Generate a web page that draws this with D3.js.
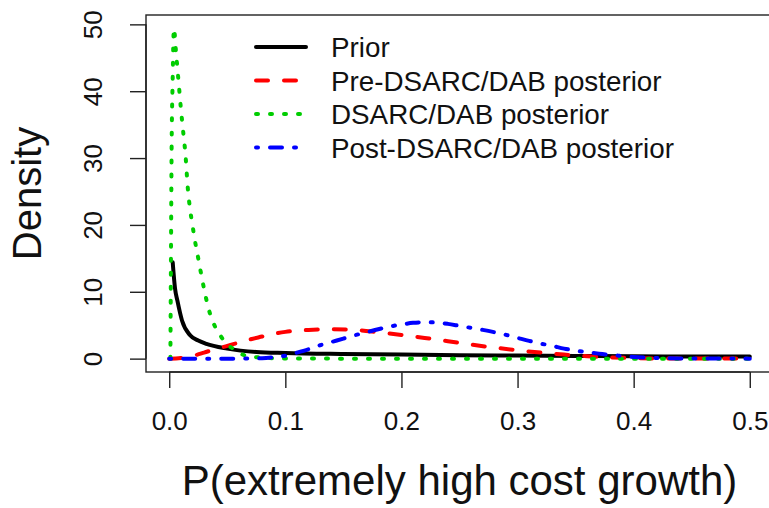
<!DOCTYPE html>
<html>
<head>
<meta charset="utf-8">
<script src="https://cdn.jsdelivr.net/npm/d3@7"></script>
<style>
  body { margin: 0; background: #fff; }
  svg { font-family: "Liberation Sans", Arial, sans-serif; }
</style>
</head>
<body>
<svg id="chart" width="769" height="508"></svg>
<script>
// series names for the legend
let seriesNames = ["Prior", "Pre-DSARC/DAB posterior", "DSARC/DAB posterior", "Post-DSARC/DAB posterior"];

// Prior (black)
let priorP = [0.003, 0.005, 0.007, 0.011, 0.018, 0.025, 0.032, 0.05, 0.075, 0.1, 0.15, 0.2, 0.25, 0.3, 0.35, 0.4, 0.45, 0.5];
let priorD = [14.4, 10.5, 8.7, 5.7, 3.5, 2.7, 2.2, 1.5, 1.0, 0.85, 0.7, 0.6, 0.5, 0.45, 0.4, 0.35, 0.32, 0.3];

// Pre-DSARC/DAB posterior (red)
let preP = [0.0, 0.01, 0.02, 0.03, 0.04, 0.05, 0.06, 0.07, 0.08, 0.09, 0.1, 0.12, 0.14, 0.16, 0.18, 0.2, 0.22, 0.24, 0.26, 0.28, 0.3, 0.32, 0.34, 0.36, 0.38, 0.4, 0.42, 0.45, 0.5];
let preD = [0, 0.1, 0.4, 0.9, 1.45, 1.9, 2.4, 2.9, 3.3, 3.7, 4.0, 4.3, 4.4, 4.3, 3.95, 3.55, 3.1, 2.6, 2.1, 1.65, 1.25, 0.9, 0.6, 0.35, 0.18, 0.08, 0.03, 0.01, 0];

// DSARC/DAB posterior (green)
let dsarcP = [0.001, 0.0015, 0.002, 0.003, 0.004, 0.006, 0.008, 0.01, 0.012, 0.014, 0.016, 0.018, 0.02, 0.022, 0.025, 0.028, 0.031, 0.035, 0.04, 0.045, 0.05, 0.055, 0.065, 0.08, 0.1, 0.15, 0.2, 0.3, 0.4, 0.5];
let dsarcD = [0, 15, 30, 42, 49.4, 45.5, 41.5, 37.5, 34, 30.5, 25.5, 22.3, 20, 17.8, 15, 12.2, 9.6, 6.8, 4.6, 3.2, 2.1, 1.5, 0.5, 0.15, 0.03, 0, 0, 0, 0, 0];

// Post-DSARC/DAB posterior (blue)
let postP = [0, 0.06, 0.08, 0.09, 0.1, 0.11, 0.12, 0.13, 0.14, 0.15, 0.16, 0.17, 0.18, 0.19, 0.2, 0.21, 0.22, 0.23, 0.24, 0.25, 0.26, 0.27, 0.28, 0.29, 0.3, 0.31, 0.32, 0.33, 0.34, 0.35, 0.36, 0.37, 0.38, 0.39, 0.4, 0.42, 0.45, 0.5];
let postD = [0, 0, 0.05, 0.2, 0.45, 0.9, 1.4, 2.0, 2.5, 3.0, 3.5, 3.95, 4.4, 4.8, 5.1, 5.35, 5.45, 5.4, 5.2, 4.9, 4.6, 4.3, 3.95, 3.55, 3.1, 2.65, 2.25, 1.9, 1.5, 1.2, 0.95, 0.75, 0.55, 0.4, 0.25, 0.1, 0.02, 0];

let xTicks = [0, 0.1, 0.2, 0.3, 0.4, 0.5];
let yTicks = [0, 10, 20, 30, 40, 50];

window.onload = function() {
    drawChart();
}

function drawChart() {
    let svg = d3.select('#chart');
    let left = 146, right = 773, top = 15, bottom = 372;

    let x = d3.scaleLinear().domain([-0.02, 0.52]).range([left, right]);
    let y = d3.scaleLinear().domain([-2.0, 51.4]).range([bottom, top]);

    // clip to plot box
    svg.append('clipPath')
        .attr('id', 'plotClip')
        .append('rect')
        .attr('x', left)
        .attr('y', top)
        .attr('width', right - left)
        .attr('height', bottom - top);

    let line = d3.line()
        .x(d => x(d[0]))
        .y(d => y(d[1]))
        .curve(d3.curveMonotoneX);

    let series = [
        {p: priorP, d: priorD, color: 'black', dash: null},
        {p: preP, d: preD, color: '#ff0000', dash: '12,16'},
        {p: dsarcP, d: dsarcD, color: '#00cd00', dash: '2,12'},
        {p: postP, d: postD, color: '#0000ff', dash: '2,12,12,12'}
    ];

    let g = svg.append('g').attr('clip-path', 'url(#plotClip)');
    series.forEach(function(s) {
        g.append('path')
            .datum(d3.zip(s.p, s.d))
            .attr('fill', 'none')
            .attr('stroke', s.color)
            .attr('stroke-width', 4)
            .attr('stroke-linecap', 'round')
            .attr('stroke-linejoin', 'round')
            .attr('stroke-dasharray', s.dash)
            .attr('d', line);
    });

    //box
    svg.append('rect')
        .attr('x', left)
        .attr('y', top)
        .attr('width', right - left)
        .attr('height', bottom - top)
        .attr('fill', 'none')
        .attr('stroke', '#222')
        .attr('stroke-width', 1.4);

    // x axis
    let xAxis = svg.append('g')
        .attr('transform', `translate(0,${bottom})`)
        .call(d3.axisBottom(x).tickValues(xTicks).tickSize(16).tickSizeOuter(0)
            .tickFormat(d3.format('.1f')));
    xAxis.select('.domain')
        .attr('d', `M${x(0)},0H${x(0.5)}`)
        .attr('stroke', '#222')
        .attr('stroke-width', 1.4);
    xAxis.selectAll('.tick line').attr('stroke', '#222').attr('stroke-width', 1.4);
    xAxis.selectAll('.tick text')
        .attr('y', 58)
        .attr('dy', null)
        .attr('font-size', 26)
        .attr('fill', '#111')
        .style('font-family', '"Liberation Sans", Arial, sans-serif');

    // y axis
    let yAxis = svg.append('g')
        .attr('transform', `translate(${left},0)`)
        .call(d3.axisLeft(y).tickValues(yTicks).tickSize(16).tickSizeOuter(0));
    yAxis.select('.domain')
        .attr('d', `M0,${y(0)}V${y(50)}`)
        .attr('stroke', '#222')
        .attr('stroke-width', 1.4);
    yAxis.selectAll('.tick line').attr('stroke', '#222').attr('stroke-width', 1.4);
    yAxis.selectAll('.tick text')
        .attr('x', null)
        .attr('dy', null)
        .attr('text-anchor', 'middle')
        .attr('transform', 'translate(-44,0) rotate(-90)')
        .attr('font-size', 26)
        .attr('fill', '#111')
        .style('font-family', '"Liberation Sans", Arial, sans-serif');

    // axis titles
    svg.append('text')
        .attr('x', (left + right) / 2)
        .attr('y', 495)
        .attr('text-anchor', 'middle')
        .attr('font-size', 42)
        .attr('fill', '#111')
        .text('P(extremely high cost growth)');
    svg.append('text')
        .attr('transform', `translate(41,${(top + bottom) / 2}) rotate(-90)`)
        .attr('text-anchor', 'middle')
        .attr('font-size', 40)
        .attr('fill', '#111')
        .text('Density');

    // legend
    let legend = svg.append('g');
    series.forEach(function(s, i) {
        let ly = 47 + i * 33.5;
        legend.append('line')
            .attr('x1', 256)
            .attr('x2', 306)
            .attr('y1', ly)
            .attr('y2', ly)
            .attr('stroke', s.color)
            .attr('stroke-width', 4)
            .attr('stroke-linecap', 'round')
            .attr('stroke-dasharray', s.dash);
        legend.append('text')
            .attr('x', 331)
            .attr('y', ly + 10)
            .attr('font-size', 27.8)
            .attr('fill', '#111')
            .text(seriesNames[i]);
    });
}
</script>
</body>
</html>
